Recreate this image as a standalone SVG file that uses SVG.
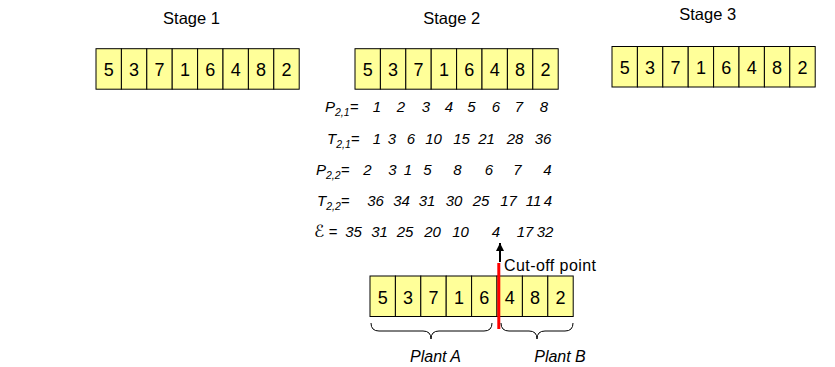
<svg xmlns="http://www.w3.org/2000/svg" width="835" height="367" viewBox="0 0 835 367">
<defs>
<style>
text{font-family:"Liberation Sans",Arial,Helvetica,sans-serif;fill:#000}
.lbl{font-size:16.5px;text-anchor:middle}
.cell{fill:#FFFF99;stroke:#000;stroke-width:1}
.d{font-size:18px;text-anchor:middle}
.r{font-size:15px;font-style:italic}
.n{font-size:15px;font-style:italic;text-anchor:middle}
.sub{font-size:10.5px}
.brace{fill:none;stroke:#000;stroke-width:1}
</style>
<marker id="ah" viewBox="0 0 10 10" refX="10" refY="5" markerWidth="8" markerHeight="8" markerUnits="userSpaceOnUse" orient="auto">
<path d="M0,0 L10,5 L0,10 Z" fill="#000"/>
</marker>
<g id="arr">
<rect class="cell" x="0" y="0" width="25.4" height="40.5"/>
<rect class="cell" x="25.4" y="0" width="25.4" height="40.5"/>
<rect class="cell" x="50.8" y="0" width="25.4" height="40.5"/>
<rect class="cell" x="76.2" y="0" width="25.4" height="40.5"/>
<rect class="cell" x="101.6" y="0" width="25.4" height="40.5"/>
<rect class="cell" x="127" y="0" width="25.4" height="40.5"/>
<rect class="cell" x="152.4" y="0" width="25.4" height="40.5"/>
<rect class="cell" x="177.8" y="0" width="25.4" height="40.5"/>
<text class="d" x="12.7" y="27.5">5</text>
<text class="d" x="38.1" y="27.5">3</text>
<text class="d" x="63.5" y="27.5">7</text>
<text class="d" x="88.9" y="27.5">1</text>
<text class="d" x="114.3" y="27.5">6</text>
<text class="d" x="139.7" y="27.5">4</text>
<text class="d" x="165.1" y="27.5">8</text>
<text class="d" x="190.5" y="27.5">2</text>
</g>
</defs>

<g id="stage1">
<text class="lbl" x="191.5" y="24">Stage 1</text>
<use href="#arr" x="96" y="48.7"/>
</g>
<g id="stage2">
<text class="lbl" x="451.7" y="24">Stage 2</text>
<use href="#arr" x="355" y="48.7"/>
</g>
<g id="stage3">
<text class="lbl" x="707.7" y="19.5">Stage 3</text>
<use href="#arr" x="612" y="46.5"/>
</g>

<g id="row-p21">
<text class="r" x="325" y="112">P<tspan class="sub" dy="4">2,1</tspan><tspan dy="-4">=</tspan></text>
<text class="n" x="377" y="112">1</text>
<text class="n" x="401" y="112">2</text>
<text class="n" x="426" y="112">3</text>
<text class="n" x="449" y="112">4</text>
<text class="n" x="471.5" y="112">5</text>
<text class="n" x="496" y="112">6</text>
<text class="n" x="519" y="112">7</text>
<text class="n" x="544" y="112">8</text>
</g>
<g id="row-t21">
<text class="r" x="327" y="144">T<tspan class="sub" dy="4">2,1</tspan><tspan dy="-4">=</tspan></text>
<text class="n" x="377" y="144">1</text>
<text class="n" x="392" y="144">3</text>
<text class="n" x="411" y="144">6</text>
<text class="n" x="433.5" y="144">10</text>
<text class="n" x="461.5" y="144">15</text>
<text class="n" x="486.5" y="144">21</text>
<text class="n" x="515" y="144">28</text>
<text class="n" x="543" y="144">36</text>
</g>
<g id="row-p22">
<text class="r" x="316" y="175">P<tspan class="sub" dy="4">2,2</tspan><tspan dy="-4">=</tspan></text>
<text class="n" x="367.5" y="175">2</text>
<text class="n" x="392.5" y="175">3</text>
<text class="n" x="408" y="175">1</text>
<text class="n" x="427.5" y="175">5</text>
<text class="n" x="457.5" y="175">8</text>
<text class="n" x="489" y="175">6</text>
<text class="n" x="517.5" y="175">7</text>
<text class="n" x="547.5" y="175">4</text>
</g>
<g id="row-t22">
<text class="r" x="317" y="206">T<tspan class="sub" dy="4">2,2</tspan><tspan dy="-4">=</tspan></text>
<text class="n" x="375.5" y="206">36</text>
<text class="n" x="401.5" y="206">34</text>
<text class="n" x="427" y="206">31</text>
<text class="n" x="454" y="206">30</text>
<text class="n" x="481" y="206">25</text>
<text class="n" x="508.5" y="206">17</text>
<text class="n" x="533.5" y="206">11</text>
<text class="n" x="548" y="206">4</text>
</g>
<g id="row-e">
<text class="r" x="314" y="237"><tspan font-family="'DejaVu Sans',sans-serif" font-style="normal" font-size="17">ℰ</tspan> =</text>
<text class="n" x="353.5" y="237">35</text>
<text class="n" x="379.5" y="237">31</text>
<text class="n" x="405" y="237">25</text>
<text class="n" x="432.5" y="237">20</text>
<text class="n" x="460.5" y="237">10</text>
<text class="n" x="496" y="237">4</text>
<text class="n" x="525" y="237">17</text>
<text class="n" x="545" y="237">32</text>
</g>

<g id="result">
<use href="#arr" x="370" y="276"/>
</g>
<g id="cutoff">
<line x1="498.8" y1="263" x2="498.8" y2="329" stroke="#FF0000" stroke-width="3"/>
<text x="504" y="271" font-size="16" textLength="92">Cut-off point</text>
</g>
<g id="plantA">
<path class="brace" d="M371,323 Q371,331 379,331 L423,331 Q431,331 431,339 Q431,331 439,331 L484,331 Q492,331 492,323"/>
<text x="435.5" y="362" font-size="16" font-style="italic" text-anchor="middle">Plant A</text>
</g>
<g id="plantB">
<path class="brace" d="M501,323 Q501,331 509,331 L529,331 Q537,331 537,339 Q537,331 545,331 L565,331 Q573,331 573,323"/>
<text x="560" y="362" font-size="16" font-style="italic" text-anchor="middle">Plant B</text>
</g>

<g id="connectors">
<line x1="500" y1="262" x2="500" y2="243" stroke="#000" stroke-width="2" marker-end="url(#ah)"/>
</g>
</svg>
